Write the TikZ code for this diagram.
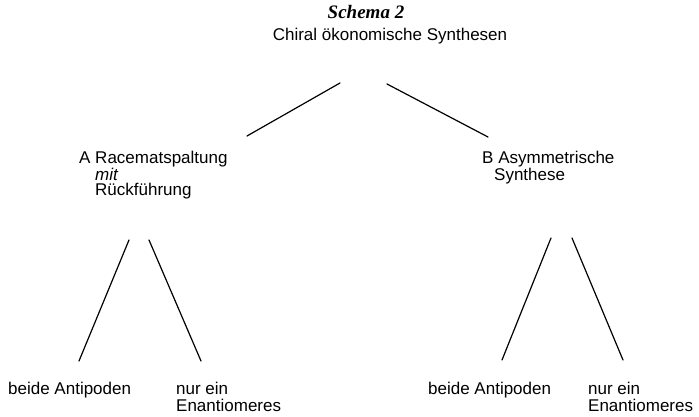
\documentclass[tikz,border=0pt]{standalone}
\usepackage{fontspec}
\setmainfont{Liberation Sans}
\newfontfamily\titlefont{Liberation Serif}
\begin{document}
\begin{tikzpicture}[x=1pt,y=-1pt,
  lbl/.style={anchor=base west,inner sep=0pt,font=\fontsize{17}{16.5}\selectfont},
  ttl/.style={anchor=base,inner sep=0pt,font=\titlefont\fontsize{19}{20}\selectfont\itshape\bfseries},
  branch/.style={line width=1.2pt,line cap=round}]
\useasboundingbox (0,0) rectangle (699,417);
\node[ttl] (title) at (366,19) {Schema 2};
\node[lbl,anchor=base] (root) at (390,41) {Chiral ökonomische Synthesen};
\node[lbl] (A) at (79,164) {A Racematspaltung};
\node[lbl] (Amit) at (95,180) {\itshape mit};
\node[lbl] (Ar) at (95,196) {Rückführung};
\node[lbl] (B) at (482,164) {B Asymmetrische};
\node[lbl] (Bs) at (494,180) {Synthese};
\node[lbl] (a1) at (8,394) {beide Antipoden};
\node[lbl] (a2) at (176,394) {nur ein};
\node[lbl] (a2b) at (176,411) {Enantiomeres};
\node[lbl] (b1) at (428,394) {beide Antipoden};
\node[lbl] (b2) at (588,394) {nur ein};
\node[lbl] (b2b) at (588,411) {Enantiomeres};
% connector end points
\coordinate (r1) at (340,83); \coordinate (A0) at (247,136);
\coordinate (r2) at (387,84); \coordinate (B0) at (488,137);
\coordinate (A1) at (129,240); \coordinate (a1t) at (79,361);
\coordinate (A2) at (149,240); \coordinate (a2t) at (201,361);
\coordinate (B1) at (551,238); \coordinate (b1t) at (502,360);
\coordinate (B2) at (572,238); \coordinate (b2t) at (623,360);
\draw[branch] (r1) -- (A0);
\draw[branch] (r2) -- (B0);
\draw[branch] (A1) -- (a1t);
\draw[branch] (A2) -- (a2t);
\draw[branch] (B1) -- (b1t);
\draw[branch] (B2) -- (b2t);
\end{tikzpicture}
\end{document}
